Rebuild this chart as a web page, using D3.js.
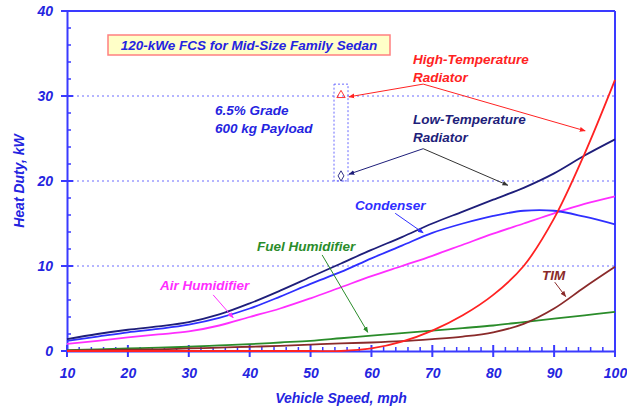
<!DOCTYPE html>
<html>
<head>
<meta charset="utf-8">
<script src="https://cdn.jsdelivr.net/npm/d3@7/dist/d3.min.js"></script>
<style>
  html, body { margin: 0; padding: 0; background: #fff; }
  svg { display: block; font-family: "Liberation Sans", Arial, sans-serif; }
</style>
</head>
<body>
<svg id="chart" width="627" height="406"></svg>
<script>
// ---- data ----
const speeds = [10,15,20,25,30,35,40,45,50,55,60,65,70,75,80,85,90,95,100];
const lowTempRadiator  = [1.4,2.0,2.5,2.9,3.4,4.3,5.6,7.1,8.7,10.3,11.9,13.4,15.0,16.4,17.8,19.2,20.9,23.0,24.9];
const condenser        = [1.2,1.7,2.2,2.6,3.1,3.9,5.0,6.4,7.9,9.3,10.9,12.4,13.9,15.0,15.9,16.5,16.5,15.8,14.9];
const airHumidifier    = [0.85,1.2,1.6,1.95,2.3,3.0,4.0,5.0,6.2,7.5,8.8,10.0,11.2,12.5,13.8,15.0,16.2,17.3,18.2];
const fuelHumidifier   = [0.1,0.2,0.3,0.4,0.5,0.65,0.8,1.0,1.2,1.5,1.8,2.1,2.4,2.7,3.0,3.4,3.8,4.2,4.6];
const tim              = [0.05,0.1,0.15,0.2,0.3,0.4,0.5,0.6,0.75,0.9,1.0,1.15,1.4,1.7,2.2,3.2,5.0,7.5,9.9];
const highTempRadiator = [0,0,0,0,0,0,0,0,0,0,0.3,1.1,2.4,4.2,6.6,10.0,15.6,23.2,31.9];

const xTicks = [10,20,30,40,50,60,70,80,90,100];
const yTicks = [0,10,20,30,40];
const gridValues = [10,20,30];

// design point markers (6.5% grade, 600 kg payload)
const markerSpeed = 55;
const markerHT = 30.1;
const markerLT = 20.6;

// ---- layout ----
const svg = d3.select("#chart");
const margin = {left: 67, right: 12, top: 11, bottom: 55};
const W = 627, H = 406;
const x = d3.scaleLinear().domain([10,100]).range([margin.left, W - margin.right]);
const y = d3.scaleLinear().domain([0,40]).range([H - margin.bottom, margin.top]);

const axisBlue = "#3a3aff";
const textBlue = "#2424e0";

// gridlines
svg.append("g").selectAll("line").data(gridValues).join("line")
  .attr("x1", x(10)).attr("x2", x(100))
  .attr("y1", d => y(d)).attr("y2", d => y(d))
  .attr("stroke", "#6a6aff").attr("stroke-width", 1).attr("stroke-dasharray", "2,3");

// frame top & right
svg.append("line").attr("x1", x(10)).attr("x2", x(100)).attr("y1", y(40)).attr("y2", y(40))
  .attr("stroke", axisBlue).attr("stroke-width", 2);
svg.append("line").attr("x1", x(100)).attr("x2", x(100)).attr("y1", y(40)).attr("y2", y(0))
  .attr("stroke", axisBlue).attr("stroke-width", 2);

// y axis
const yAxis = svg.append("g").attr("transform", `translate(${x(10)},0)`)
  .call(d3.axisLeft(y).tickValues(yTicks).tickSize(0).tickPadding(14).tickFormat(d3.format("d")));
yAxis.select(".domain").attr("stroke", axisBlue).attr("stroke-width", 2);
yAxis.selectAll("text").attr("fill", textBlue).attr("font-size", 14).attr("font-weight", "bold")
  .attr("font-style", "italic").attr("font-family", "Liberation Sans, Arial, sans-serif");
svg.append("g").selectAll("line").data(yTicks).join("line")
  .attr("x1", x(10) - 6).attr("x2", x(10) + 6).attr("y1", d => y(d)).attr("y2", d => y(d))
  .attr("stroke", axisBlue).attr("stroke-width", 2);
const yMinor = d3.range(0, 40.01, 2).filter(d => d % 10 !== 0);
svg.append("g").selectAll("line").data(yMinor).join("line")
  .attr("x1", x(10)).attr("x2", x(10) + 4).attr("y1", d => y(d)).attr("y2", d => y(d))
  .attr("stroke", axisBlue).attr("stroke-width", 1.5);

// x axis
const xAxis = svg.append("g").attr("transform", `translate(0,${y(0)})`)
  .call(d3.axisBottom(x).tickValues(xTicks).tickSize(0).tickPadding(17).tickFormat(d3.format("d")));
xAxis.select(".domain").attr("stroke", axisBlue).attr("stroke-width", 2);
xAxis.selectAll("text").attr("fill", textBlue).attr("font-size", 14).attr("font-weight", "bold")
  .attr("font-style", "italic").attr("font-family", "Liberation Sans, Arial, sans-serif");
svg.append("g").selectAll("line").data(xTicks).join("line")
  .attr("x1", d => x(d)).attr("x2", d => x(d)).attr("y1", y(0) - 6).attr("y2", y(0) + 6)
  .attr("stroke", axisBlue).attr("stroke-width", 2);
const xMinor = d3.range(10, 100.01, 2).filter(d => d % 10 !== 0);
svg.append("g").selectAll("line").data(xMinor).join("line")
  .attr("x1", d => x(d)).attr("x2", d => x(d)).attr("y1", y(0)).attr("y2", y(0) - 4)
  .attr("stroke", axisBlue).attr("stroke-width", 1.5);

// axis titles
svg.append("text").attr("x", (x(10) + x(100)) / 2).attr("y", 403)
  .attr("text-anchor", "middle").attr("fill", textBlue).attr("font-size", 14)
  .attr("font-style", "italic").attr("font-weight", "bold").text("Vehicle Speed, mph");
svg.append("text").attr("transform", `translate(24,${(y(0) + y(40)) / 2}) rotate(-90)`)
  .attr("text-anchor", "middle").attr("fill", textBlue).attr("font-size", 14)
  .attr("font-style", "italic").attr("font-weight", "bold").text("Heat Duty, kW");

// series
const series = [
  {name: "fuel", values: fuelHumidifier, color: "#2a8c2a"},
  {name: "tim", values: tim, color: "#8a2a2a"},
  {name: "air", values: airHumidifier, color: "#ff2eff"},
  {name: "cond", values: condenser, color: "#2f2fff"},
  {name: "lt", values: lowTempRadiator, color: "#1e1e7a"},
  {name: "ht", values: highTempRadiator, color: "#ff2222"}
];
const line = d3.line().x(d => x(d[0])).y(d => y(Math.max(0, d[1]))).curve(d3.curveCatmullRom.alpha(0.5));
svg.append("g").selectAll("path").data(series).join("path")
  .attr("d", s => line(speeds.map((v, i) => [v, s.values[i]])))
  .attr("fill", "none").attr("stroke", s => s.color).attr("stroke-width", 1.8);

// arrow markers
const defs = svg.append("defs");
function arrowHead(id, color) {
  defs.append("marker").attr("id", id).attr("viewBox", "0 0 10 10")
    .attr("refX", 9).attr("refY", 5).attr("markerWidth", 6).attr("markerHeight", 6)
    .attr("orient", "auto-start-reverse")
    .append("path").attr("d", "M0,1 L10,5 L0,9 Z").attr("fill", color);
}
arrowHead("ahRed", "#ff2222");
arrowHead("ahNavy", "#1e1e7a");
arrowHead("ahBlack", "#333333");
arrowHead("ahBlue", "#2f2fff");
arrowHead("ahGreen", "#2a8c2a");
arrowHead("ahMag", "#ff2eff");
arrowHead("ahBrown", "#8a2a2a");

function arrow(from, to, color, markerId) {
  svg.append("line").attr("x1", x(from[0])).attr("y1", y(from[1]))
    .attr("x2", x(to[0])).attr("y2", y(to[1]))
    .attr("stroke", color).attr("stroke-width", 1)
    .attr("marker-end", `url(#${markerId})`);
}
arrow([68.5, 31.4], [56.3, 29.9], "#ff2222", "ahRed");
arrow([68.5, 31.4], [95.1, 25.9], "#ff2222", "ahRed");
arrow([68.5, 23.8], [56.3, 20.8], "#1e1e7a", "ahNavy");
arrow([68.5, 23.8], [82.4, 19.5], "#333333", "ahBlack");
arrow([63.9, 16.2], [68.5, 13.9], "#2f2fff", "ahBlue");
arrow([51.9, 11.3], [59.4, 2.2], "#2a8c2a", "ahGreen");
arrow([34.0, 6.6], [37.3, 3.9], "#ff2eff", "ahMag");
arrow([90.1, 8.1], [91.9, 6.4], "#8a2a2a", "ahBrown");

// design point box & markers
svg.append("rect").attr("x", x(markerSpeed) - 7).attr("y", y(markerHT) - 11)
  .attr("width", 14).attr("height", y(markerLT) - y(markerHT) + 16)
  .attr("fill", "none").attr("stroke", "#6a6aff").attr("stroke-width", 1).attr("stroke-dasharray", "2,2");
svg.append("path").attr("transform", `translate(${x(markerSpeed)},${y(markerHT)})`)
  .attr("d", d3.symbol().type(d3.symbolTriangle).size(30))
  .attr("fill", "none").attr("stroke", "#ff3333").attr("stroke-width", 1);
svg.append("path").attr("transform", `translate(${x(markerSpeed)},${y(markerLT)})`)
  .attr("d", d3.symbol().type(d3.symbolDiamond).size(30))
  .attr("fill", "none").attr("stroke", "#333388").attr("stroke-width", 1);

// labels
function label(px, py, lines, color) {
  const t = svg.append("text").attr("x", px).attr("y", py).attr("fill", color)
    .attr("font-size", 13.5).attr("font-style", "italic").attr("font-weight", "bold");
  lines.forEach((l, i) => t.append("tspan").attr("x", px).attr("dy", i === 0 ? 0 : 18).text(l));
}
label(413, 64, ["High-Temperature", "Radiator"], "#ff2222");
label(413, 124, ["Low-Temperature", "Radiator"], "#1e1e7a");
label(355, 210, ["Condenser"], "#2f2fff");
label(257, 251, ["Fuel Humidifier"], "#2a8c2a");
label(160, 290, ["Air Humidifier"], "#ff2eff");
label(542, 280, ["TIM"], "#8a2a2a");
label(215, 115, ["6.5% Grade", "600 kg Payload"], textBlue);

// title box
svg.append("rect").attr("x", 108).attr("y", 35).attr("width", 282).attr("height", 20)
  .attr("fill", "#ffffc8").attr("stroke", "#ff8080").attr("stroke-width", 1.5);
svg.append("text").attr("x", 249).attr("y", 50).attr("text-anchor", "middle")
  .attr("fill", textBlue).attr("font-size", 13.5).attr("font-style", "italic").attr("font-weight", "bold")
  .text("120-kWe FCS for Mid-Size Family Sedan");
</script>
</body>
</html>
